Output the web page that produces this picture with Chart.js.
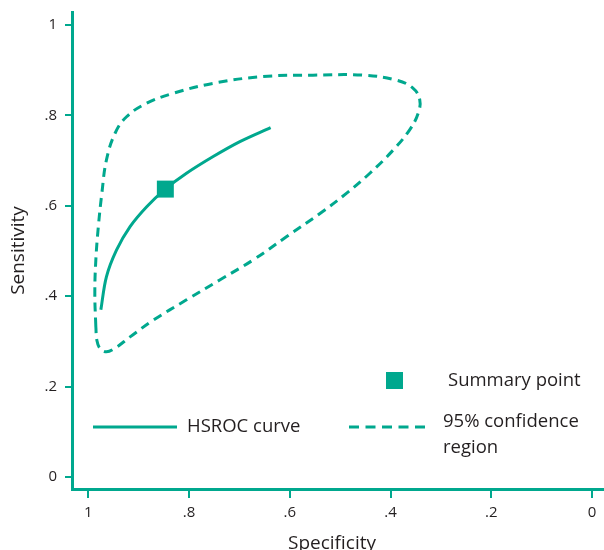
<!DOCTYPE html>
<html>
<head>
<meta charset="utf-8">
<title>HSROC</title>
<script src="https://cdn.jsdelivr.net/npm/chart.js@4.4.1/dist/chart.umd.min.js"></script>
<style>
  html, body { margin: 0; padding: 0; background: #ffffff; overflow: hidden; }
  #wrap { width: 604px; height: 550px; }
  canvas { display: block; }
</style>
</head>
<body>
<div id="wrap"><canvas id="roc"></canvas></div>
<script>
// Tick labels (values 0..1, shown Stata style)
const tickValues = [0, 0.2, 0.4, 0.6, 0.8, 1];
const tickLabels = ['0', '.2', '.4', '.6', '.8', '1'];

// Summary point
const summarySpec = [0.847];
const summarySens = [0.637];

// HSROC curve
const hsrocSpec = [0.975, 0.964, 0.944, 0.917, 0.884, 0.847, 0.805, 0.752, 0.699, 0.638];
const hsrocSens = [0.370, 0.443, 0.502, 0.554, 0.598, 0.637, 0.672, 0.709, 0.742, 0.773];

// 95% confidence region (closed loop)
const regionSpec = [0.985, 0.987, 0.985, 0.980, 0.973, 0.964, 0.947, 0.924, 0.884, 0.831,
                    0.752, 0.653, 0.554, 0.454, 0.388, 0.355, 0.342, 0.345, 0.362, 0.395,
                    0.441, 0.487, 0.540, 0.606, 0.673, 0.739, 0.805, 0.871, 0.917, 0.947,
                    0.964, 0.977, 0.983, 0.985];
const regionSens = [0.333, 0.406, 0.480, 0.554, 0.628, 0.701, 0.760, 0.797, 0.827, 0.849,
                    0.871, 0.886, 0.889, 0.889, 0.878, 0.860, 0.835, 0.805, 0.768, 0.723,
                    0.672, 0.628, 0.583, 0.532, 0.480, 0.436, 0.392, 0.347, 0.310, 0.285,
                    0.277, 0.285, 0.303, 0.333];

const TEAL = '#00a88e';
const INK = '#231f20';
const FONT = '"Open Sans", "Noto Sans", sans-serif';

function toPoints(xs, ys) {
    return xs.map(function(x, i) { return { x: x, y: ys[i] }; });
}

function tickText(value) {
    return tickLabels[tickValues.indexOf(Math.round(value * 10) / 10)];
}

// x tick labels drawn by hand, plus the axis line running on to the right edge
const xAxisPlugin = {
    id: 'xAxisExtras',
    afterDraw: function(chart) {
        const ctx = chart.ctx;
        const xs = chart.scales.x;
        ctx.save();
        ctx.strokeStyle = TEAL;
        ctx.lineWidth = 3;
        ctx.beginPath();
        ctx.moveTo(chart.chartArea.right - 1, Math.floor(xs.top) + 0.5);
        ctx.lineTo(chart.width, Math.floor(xs.top) + 0.5);
        ctx.stroke();

        ctx.fillStyle = INK;
        ctx.font = '15px ' + FONT;
        ctx.textAlign = 'center';
        ctx.textBaseline = 'top';
        tickValues.forEach(function(v, i) {
            ctx.fillText(tickLabels[i], xs.getPixelForValue(v), xs.top + 16);
        });
        ctx.restore();
    }
};

// Draws the in-plot legend (Stata-like two column legend)
const legendPlugin = {
    id: 'insideLegend',
    afterDatasetsDraw: function(chart) {
        const ctx = chart.ctx;
        ctx.save();
        ctx.fillStyle = TEAL;
        ctx.fillRect(386, 372, 17, 17);

        ctx.strokeStyle = TEAL;
        ctx.lineWidth = 3;
        ctx.beginPath();
        ctx.moveTo(93, 427);
        ctx.lineTo(177, 427);
        ctx.stroke();

        ctx.setLineDash([10, 6.5]);
        ctx.beginPath();
        ctx.moveTo(349, 427);
        ctx.lineTo(429, 427);
        ctx.stroke();
        ctx.setLineDash([]);

        ctx.fillStyle = INK;
        ctx.font = '18.5px ' + FONT;
        ctx.textBaseline = 'middle';
        ctx.textAlign = 'left';
        ctx.fillText(chart.data.datasets[0].label, 448, 381);
        ctx.fillText(chart.data.datasets[1].label, 187, 427);
        ctx.fillText('95% confidence', 443, 422);
        ctx.fillText('region', 443, 448);
        ctx.restore();
    }
};

new Chart(document.getElementById('roc'), {
    type: 'scatter',
    data: {
        datasets: [{
            label: 'Summary point',
            data: toPoints(summarySpec, summarySens),
            pointStyle: 'rect',
            pointRadius: 12,
            pointHoverRadius: 12,
            backgroundColor: TEAL,
            borderWidth: 0
        }, {
            label: 'HSROC curve',
            data: toPoints(hsrocSpec, hsrocSens),
            showLine: true,
            borderColor: TEAL,
            borderWidth: 3,
            pointRadius: 0,
            tension: 0.35
        }, {
            label: '95% confidence region',
            data: toPoints(regionSpec, regionSens),
            showLine: true,
            borderColor: TEAL,
            borderWidth: 3,
            borderDash: [9, 6],
            pointRadius: 0,
            tension: 0.4
        }]
    },
    options: {
        responsive: true,
        maintainAspectRatio: false,
        animation: false,
        layout: { padding: { top: 12, right: 0, left: 0, bottom: 0 } },
        plugins: {
            legend: { display: false },
            tooltip: { enabled: false }
        },
        scales: {
            x: {
                type: 'linear',
                reverse: true,
                min: 0,
                max: 1.0323,
                afterFit: function(scale) {
                    scale.height = 61;
                },
                afterBuildTicks: function(scale) {
                    scale.ticks = tickValues.map(function(v) { return { value: v }; });
                },
                grid: {
                    display: true,
                    drawOnChartArea: false,
                    drawTicks: true,
                    tickLength: 9,
                    color: TEAL,
                    lineWidth: 2
                },
                border: { display: true, color: TEAL, width: 3 },
                ticks: { display: false },
                title: {
                    display: true,
                    text: 'Specificity',
                    color: INK,
                    padding: 0,
                    font: { family: FONT, size: 19, lineHeight: 0.7 }
                }
            },
            y: {
                type: 'linear',
                min: -0.0265,
                max: 1.0288,
                afterFit: function(scale) {
                    scale.width = 72;
                    scale.paddingTop = 0;
                    scale.paddingBottom = 0;
                },
                afterBuildTicks: function(scale) {
                    scale.ticks = tickValues.map(function(v) { return { value: v }; });
                },
                grid: {
                    display: true,
                    drawOnChartArea: false,
                    drawTicks: true,
                    tickLength: 7,
                    color: TEAL,
                    lineWidth: 2
                },
                border: { display: true, color: TEAL, width: 3 },
                ticks: {
                    padding: 8,
                    color: INK,
                    font: { family: FONT, size: 15 },
                    callback: tickText
                },
                title: {
                    display: true,
                    text: 'Sensitivity',
                    color: INK,
                    padding: { top: 7, bottom: 0 },
                    font: { family: FONT, size: 19 }
                }
            }
        }
    },
    plugins: [legendPlugin, xAxisPlugin]
});
</script>
</body>
</html>
